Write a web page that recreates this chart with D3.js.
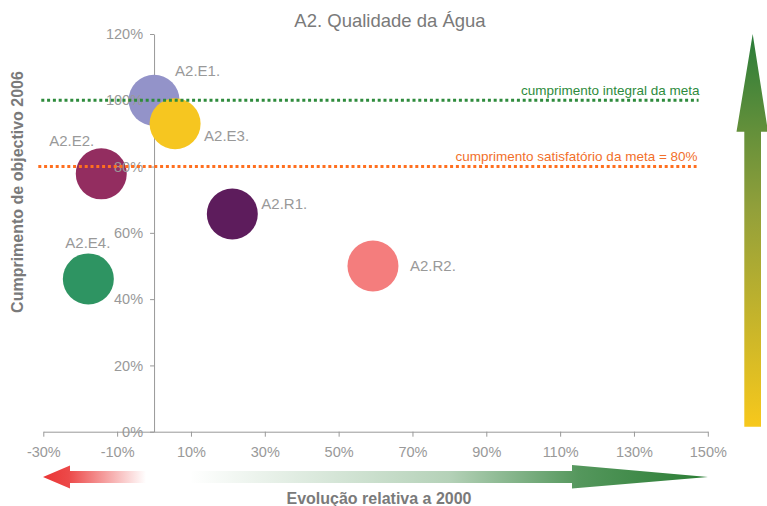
<!DOCTYPE html>
<html>
<head>
<meta charset="utf-8">
<script src="https://cdn.jsdelivr.net/npm/d3@7"></script>
<style>
  html, body { margin: 0; padding: 0; background: #fff; }
  svg { display: block; font-family: "Liberation Sans", Arial, sans-serif; }
</style>
</head>
<body>
<svg id="chart" width="767" height="506"></svg>
<script>
// ---- data ----
const labels = ["A2.E1.", "A2.E3.", "A2.E2.", "A2.R1.", "A2.R2.", "A2.E4."];
const evolucao = [0, 5.7, -14.3, 21.2, 59.3, -17.8];      // x, %
const cumprimento = [100, 92.9, 77.8, 65.7, 50, 46.1];    // y, %
const colors = ["#9393c9", "#f6c620", "#932d60", "#5d1c5c", "#f47d7d", "#2e9462"];
const xTicks = [-30, -10, 10, 30, 50, 70, 90, 110, 130, 150];
const yTicks = [0, 20, 40, 60, 80, 100, 120];
const metaIntegral = 100;
const metaSatisf = 80;
const titleText = "A2. Qualidade da Água";
const xTitle = "Evolução relativa a 2000";
const yTitle = "Cumprimento de objectivo 2006";
const integralText = "cumprimento integral da meta";
const satisfText = "cumprimento satisfatório da meta = 80%";
// label offsets (layout only)
const labelOffsets = [[21, -24], [29, 17], [-52, -28], [29, -5], [37, 5], [-23, -31]];

// ---- layout ----
const svg = d3.select("#chart");
const x = d3.scaleLinear().domain([-30, 150]).range([43.3, 707.8]);
const y = d3.scaleLinear().domain([0, 120]).range([431.7, 34]);
const pct = d => d + "%";
const gray = "#999";
const R = 25.5;
const tickFont = 14.5;

const defs = svg.append("defs");
const gV = defs.append("linearGradient").attr("id", "gV").attr("x1", 0).attr("y1", 0).attr("x2", 0).attr("y2", 1);
gV.append("stop").attr("offset", "0%").attr("stop-color", "#2a7c3a");
gV.append("stop").attr("offset", "45%").attr("stop-color", "#93a03a");
gV.append("stop").attr("offset", "100%").attr("stop-color", "#f7c81c");
const gR = defs.append("linearGradient").attr("id", "gR").attr("x1", 0).attr("y1", 0).attr("x2", 1).attr("y2", 0);
gR.append("stop").attr("offset", "0%").attr("stop-color", "#ea3535").attr("stop-opacity", 1);
gR.append("stop").attr("offset", "25%").attr("stop-color", "#ea3535").attr("stop-opacity", 0.9);
gR.append("stop").attr("offset", "100%").attr("stop-color", "#ea3535").attr("stop-opacity", 0);
const gG = defs.append("linearGradient").attr("id", "gG").attr("x1", 0).attr("y1", 0).attr("x2", 1).attr("y2", 0);
gG.append("stop").attr("offset", "0%").attr("stop-color", "#2a7d34").attr("stop-opacity", 0);
gG.append("stop").attr("offset", "50%").attr("stop-color", "#2a7d34").attr("stop-opacity", 0.35);
gG.append("stop").attr("offset", "75%").attr("stop-color", "#2a7d34").attr("stop-opacity", 0.8);
gG.append("stop").attr("offset", "100%").attr("stop-color", "#2a7d34").attr("stop-opacity", 1);

// title
svg.append("text").attr("x", 390).attr("y", 26.5).attr("text-anchor", "middle")
  .attr("font-size", 18.5).attr("fill", "#7a7a7a").text(titleText);

// axes (under bubbles)
const xAxis = svg.append("g").attr("transform", `translate(0,${y(0)})`)
  .call(d3.axisBottom(x).tickValues(xTicks).tickFormat(pct).tickSize(5).tickSizeOuter(0).tickPadding(10));
const yAxis = svg.append("g").attr("transform", `translate(${x(0)},0)`)
  .call(d3.axisLeft(y).tickValues(yTicks).tickFormat(pct).tickSize(4).tickSizeOuter(0).tickPadding(7));
[xAxis, yAxis].forEach(a => {
  a.selectAll("path,line").attr("stroke", "#999");
  a.selectAll("text").attr("fill", gray).attr("font-size", tickFont).attr("font-family", "Liberation Sans, Arial, sans-serif");
});
yAxis.selectAll("text").remove();

// bubbles
const pts = labels.map((l, i) => ({ l, x: evolucao[i], y: cumprimento[i], c: colors[i], o: labelOffsets[i] }));
svg.append("g").selectAll("circle").data(pts).join("circle")
  .attr("cx", d => x(d.x)).attr("cy", d => y(d.y)).attr("r", R).attr("fill", d => d.c);
svg.append("g").selectAll("text").data(pts).join("text")
  .attr("x", d => x(d.x) + d.o[0]).attr("y", d => y(d.y) + d.o[1])
  .attr("font-size", 15).attr("fill", gray).text(d => d.l);

// y tick labels over bubbles
const yLab = svg.append("g").attr("transform", `translate(${x(0)},0)`)
  .call(d3.axisLeft(y).tickValues(yTicks).tickFormat(pct).tickSize(4).tickSizeOuter(0).tickPadding(7));
yLab.select(".domain").remove();
yLab.selectAll("line").remove();
yLab.selectAll("text").attr("fill", gray).attr("font-size", tickFont).attr("font-family", "Liberation Sans, Arial, sans-serif");

// goal lines
const lx0 = x(-30) - 2, lx1 = x(147.5);
svg.append("line").attr("x1", lx0).attr("x2", lx1).attr("y1", y(metaIntegral)).attr("y2", y(metaIntegral))
  .attr("stroke", "#2e8b3c").attr("stroke-width", 3).attr("stroke-dasharray", "3,2.8");
svg.append("text").attr("x", lx1 + 1).attr("y", y(metaIntegral) - 5).attr("text-anchor", "end")
  .attr("font-size", 13.5).attr("fill", "#2e8b3c").text(integralText);
svg.append("line").attr("x1", lx0 - 3).attr("x2", lx1 - 2).attr("y1", y(metaSatisf)).attr("y2", y(metaSatisf))
  .attr("stroke", "#ff6f1f").attr("stroke-width", 3).attr("stroke-dasharray", "3,2.8");
svg.append("text").attr("x", lx1 - 1).attr("y", y(metaSatisf) - 6).attr("text-anchor", "end")
  .attr("font-size", 13.5).attr("fill", "#f26f2a").text(satisfText);

// axis titles
svg.append("text").attr("x", 379).attr("y", 504).attr("text-anchor", "middle")
  .attr("font-size", 16).attr("font-weight", "bold").attr("fill", "#7a7a7a").text(xTitle);
svg.append("text").attr("transform", "translate(23,192) rotate(-90)").attr("text-anchor", "middle")
  .attr("font-size", 16).attr("font-weight", "bold").attr("fill", "#7a7a7a").text(yTitle);

// decorative arrows
const ay = 477;
svg.append("path").attr("fill", "url(#gR)")
  .attr("d", `M43,${ay} L70,${ay-11.5} L70,${ay-6} L146,${ay-6} L146,${ay+6} L70,${ay+6} L70,${ay+11.5} Z`);
svg.append("path").attr("fill", "url(#gG)")
  .attr("d", `M190,${ay-6} L572,${ay-6} L572,${ay-12} L708,${ay} L572,${ay+11.5} L572,${ay+6} L190,${ay+6} Z`);
svg.append("path").attr("fill", "url(#gV)")
  .attr("d", `M752.7,34 L768,131.7 L761,131.7 L761,426.7 L744.3,426.7 L744.3,131.7 L736.5,131.7 Z`);
</script>
</body>
</html>
